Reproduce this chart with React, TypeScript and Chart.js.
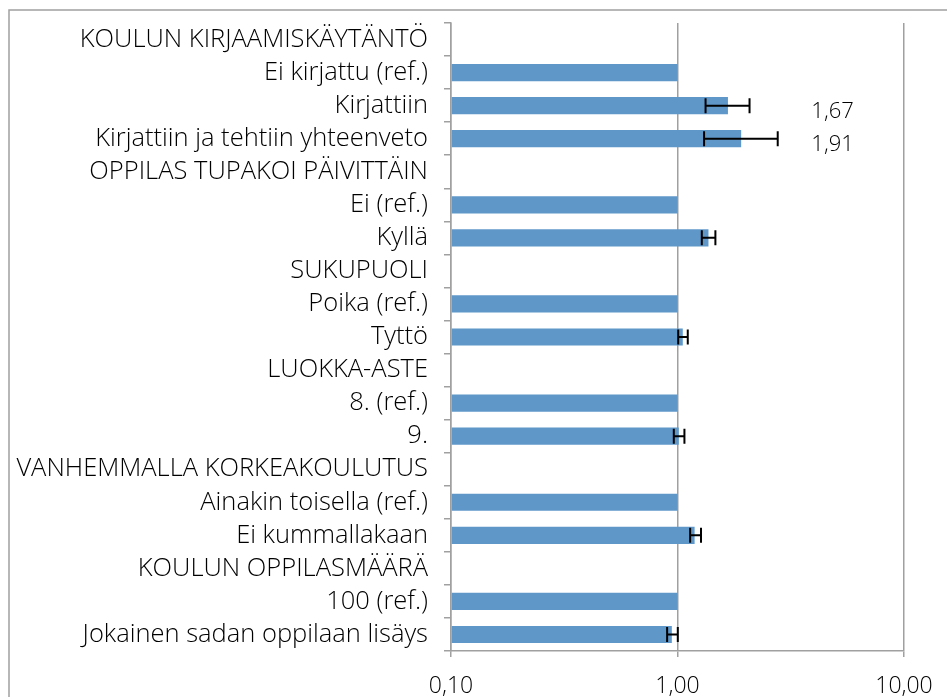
import React, { useEffect, useRef } from "react";
import { Chart, registerables } from "chart.js";

Chart.register(...registerables);

const categories: string[] = [
  "KOULUN KIRJAAMISKÄYTÄNTÖ",
  "Ei kirjattu (ref.)",
  "Kirjattiin",
  "Kirjattiin ja tehtiin yhteenveto",
  "OPPILAS TUPAKOI PÄIVITTÄIN",
  "Ei (ref.)",
  "Kyllä",
  "SUKUPUOLI",
  "Poika (ref.)",
  "Tyttö",
  "LUOKKA-ASTE",
  "8. (ref.)",
  "9.",
  "VANHEMMALLA KORKEAKOULUTUS",
  "Ainakin toisella (ref.)",
  "Ei kummallakaan",
  "KOULUN OPPILASMÄÄRÄ",
  "100 (ref.)",
  "Jokainen sadan oppilaan lisäys",
];

const oddsRatios: (number | null)[] = [
  null, 1.0, 1.67, 1.91,
  null, 1.0, 1.37,
  null, 1.0, 1.055,
  null, 1.0, 1.013,
  null, 1.0, 1.19,
  null, 1.0, 0.944,
];

const ciLow: (number | null)[] = [
  null, null, 1.33, 1.31,
  null, null, 1.28,
  null, null, 1.007,
  null, null, 0.963,
  null, null, 1.137,
  null, null, 0.90,
];

const ciHigh: (number | null)[] = [
  null, null, 2.08, 2.77,
  null, null, 1.47,
  null, null, 1.11,
  null, null, 1.073,
  null, null, 1.27,
  null, null, 1.003,
];

const valueLabels: (string | null)[] = [
  null, null, "1,67", "1,91",
  null, null, null,
  null, null, null,
  null, null, null,
  null, null, null,
  null, null, null,
];

const xTicks: number[] = [0.1, 1, 10];
const labelAnchorValue = 6.0;

const FONT = "'Open Sans', 'Noto Sans', sans-serif";

export default function App() {
  const ref = useRef<HTMLCanvasElement | null>(null);

  useEffect(() => {
    if (!ref.current) return;

    const frame = {
      id: "outerFrame",
      beforeDraw(chart: any) {
        const ctx = chart.ctx;
        ctx.save();
        ctx.fillStyle = "#ffffff";
        ctx.fillRect(0, 0, chart.width, chart.height);
        ctx.strokeStyle = "#a0a0a0";
        ctx.lineWidth = 1.5;
        ctx.strokeRect(9, 10, 1200, 1200);
        ctx.restore();
      },
    };

    const errorBars = {
      id: "errorBars",
      afterDatasetsDraw(chart: any) {
        const ctx = chart.ctx;
        const xs = chart.scales.x;
        const meta = chart.getDatasetMeta(0);
        ctx.save();
        ctx.strokeStyle = "#000000";
        ctx.lineWidth = 2;
        meta.data.forEach((bar: any, i: number) => {
          const lo = ciLow[i];
          const hi = ciHigh[i];
          if (lo == null || hi == null) return;
          const y = bar.y;
          const x1 = xs.getPixelForValue(lo);
          const x2 = xs.getPixelForValue(hi);
          const cap = 7.5;
          ctx.beginPath();
          ctx.moveTo(x1, y);
          ctx.lineTo(x2, y);
          ctx.moveTo(x1, y - cap);
          ctx.lineTo(x1, y + cap);
          ctx.moveTo(x2, y - cap);
          ctx.lineTo(x2, y + cap);
          ctx.stroke();
        });
        ctx.fillStyle = "#000000";
        ctx.font = `300 22px ${FONT}`;
        ctx.textAlign = "right";
        ctx.textBaseline = "middle";
        meta.data.forEach((bar: any, i: number) => {
          const t = valueLabels[i];
          if (!t) return;
          ctx.fillText(t, xs.getPixelForValue(labelAnchorValue), bar.y + 6);
        });
        ctx.restore();
      },
    };

    const chart = new Chart(ref.current, {
      type: "bar",
      data: {
        labels: categories,
        datasets: [
          {
            data: oddsRatios as any,
            base: 0.1,
            backgroundColor: "#5f97c9",
            borderWidth: 0,
            barPercentage: 0.52,
            categoryPercentage: 1.0,
          } as any,
        ],
      },
      options: {
        indexAxis: "y",
        responsive: false,
        animation: false,
        layout: { padding: { top: 23, right: 43, left: 0, bottom: 0 } },
        plugins: {
          legend: { display: false },
          tooltip: { enabled: false },
        },
        scales: {
          x: {
            type: "logarithmic",
            min: 0.1,
            max: 10,
            afterBuildTicks(scale: any) {
              scale.ticks = xTicks.map((v) => ({ value: v }));
            },
            afterFit(scale: any) {
              scale.height = 46;
              scale.paddingLeft = 0;
              scale.paddingRight = 0;
            },
            ticks: {
              color: "#000000",
              font: { family: FONT, size: 23, weight: "300" as any },
              padding: 16,
              maxRotation: 0,
              autoSkip: false,
              callback: (v: any) => Number(v).toFixed(2).replace(".", ","),
            },
            grid: {
              color: "#a0a0a0",
              lineWidth: 1.5,
              tickLength: 6,
              drawTicks: true,
            },
            border: { color: "#a0a0a0", width: 1.5 },
          },
          y: {
            afterFit(scale: any) {
              scale.width = 451;
              scale.paddingTop = 0;
              scale.paddingBottom = 0;
            },
            ticks: {
              color: "#000000",
              font: { family: FONT, size: 25.5, weight: "300" as any },
              padding: 16,
              autoSkip: false,
            },
            grid: {
              drawOnChartArea: false,
              drawTicks: true,
              tickLength: 7,
              color: "#a0a0a0",
              lineWidth: 1.5,
            },
            border: { color: "#a0a0a0", width: 1.5 },
          },
        },
      },
      plugins: [frame, errorBars],
    });

    return () => chart.destroy();
  }, []);

  return (
    <div style={{ position: "absolute", left: 0, top: 0, width: 947, height: 697 }}>
      <canvas ref={ref} width={947} height={697} />
    </div>
  );
}
